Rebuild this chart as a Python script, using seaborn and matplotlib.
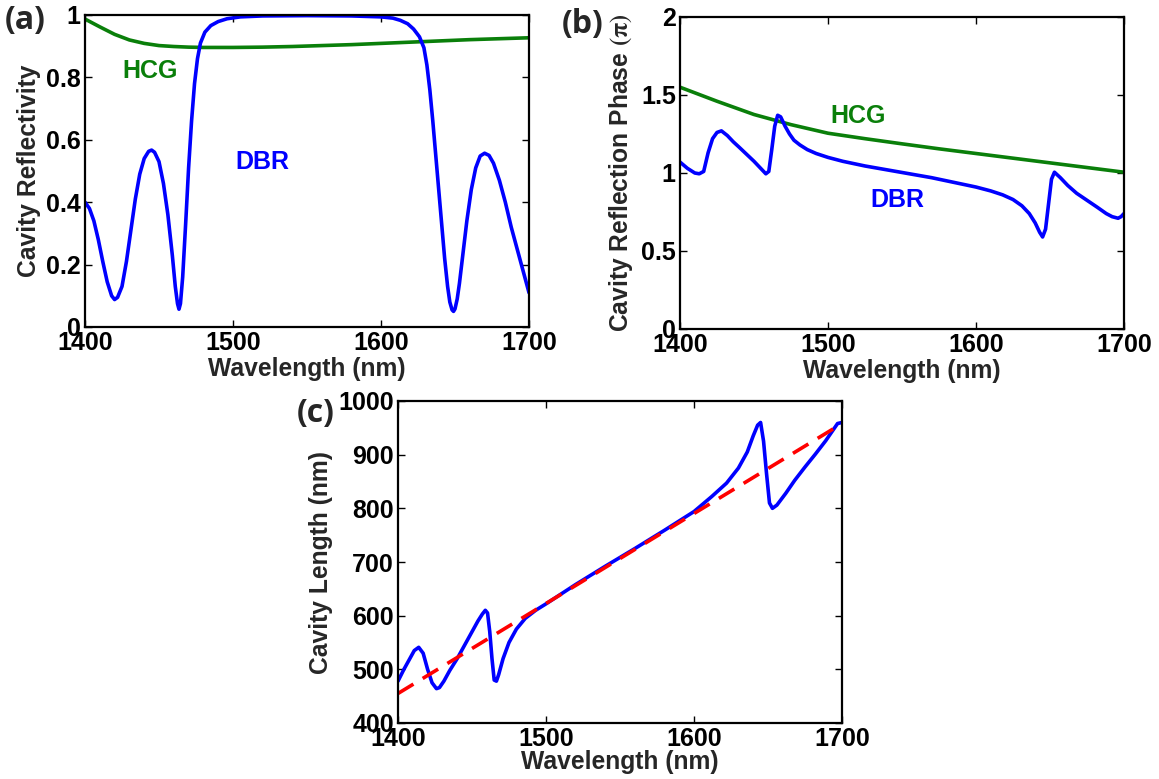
import matplotlib
matplotlib.use('Agg')
import seaborn as sns
import matplotlib.pyplot as plt

# (a) cavity reflectivity
a_wl = [1400, 1403, 1406, 1409, 1412, 1415, 1418, 1420, 1422, 1425,
        1428, 1431, 1434, 1437, 1440, 1443, 1445, 1447, 1450, 1453,
        1456, 1459, 1461, 1462.5, 1463.5, 1464.5, 1466, 1468, 1470, 1472,
        1474, 1476, 1478, 1481, 1485, 1490, 1496, 1505, 1520, 1550,
        1580, 1600, 1608, 1613, 1618, 1622, 1626, 1629, 1631, 1633,
        1635, 1637, 1639, 1641, 1643, 1645, 1646.5, 1648, 1649, 1650,
        1651.5, 1653, 1655, 1658, 1661, 1664, 1667, 1670, 1673, 1676,
        1680, 1684, 1688, 1692, 1696, 1700]
a_dbr = [0.40, 0.38, 0.34, 0.28, 0.21, 0.145, 0.10, 0.088, 0.095, 0.13,
         0.21, 0.31, 0.41, 0.49, 0.54, 0.563, 0.567, 0.56, 0.53, 0.46,
         0.36, 0.23, 0.13, 0.075, 0.057, 0.075, 0.16, 0.33, 0.51, 0.66,
         0.78, 0.86, 0.91, 0.945, 0.966, 0.979, 0.988, 0.994, 0.997, 0.998,
         0.997, 0.994, 0.99, 0.983, 0.972, 0.955, 0.93, 0.895, 0.84, 0.76,
         0.66, 0.55, 0.44, 0.33, 0.22, 0.13, 0.08, 0.055, 0.05, 0.058,
         0.09, 0.14, 0.22, 0.34, 0.44, 0.51, 0.548, 0.557, 0.55, 0.525,
         0.47, 0.40, 0.32, 0.25, 0.18, 0.11]
a_hcg_wl = [1400, 1410, 1420, 1430, 1440, 1450, 1460, 1470, 1480, 1500,
            1520, 1540, 1560, 1580, 1600, 1620, 1640, 1660, 1680, 1700]
a_hcg = [0.987, 0.962, 0.938, 0.92, 0.909, 0.902, 0.899, 0.897, 0.896, 0.896,
         0.897, 0.899, 0.902, 0.905, 0.909, 0.913, 0.917, 0.921, 0.924, 0.927]

# (b) reflection phase (in units of pi)
b_wl = [1400, 1405, 1410, 1413, 1416, 1419, 1422, 1425, 1428, 1432,
        1436, 1440, 1445, 1450, 1455, 1458, 1460, 1462, 1464, 1466,
        1468, 1471, 1474, 1477, 1481, 1486, 1492, 1500, 1510, 1525,
        1540, 1555, 1570, 1585, 1600, 1610, 1618, 1625, 1631, 1636,
        1640, 1643, 1645, 1647, 1649, 1651, 1653, 1657, 1662, 1668,
        1675, 1682, 1688, 1692, 1696, 1698, 1700]
b_dbr = [1.07, 1.03, 1.0, 0.995, 1.01, 1.13, 1.22, 1.26, 1.27, 1.24,
         1.2, 1.165, 1.12, 1.075, 1.025, 0.995, 1.01, 1.15, 1.30, 1.37,
         1.36, 1.30, 1.25, 1.21, 1.18, 1.15, 1.125, 1.10, 1.075, 1.045,
         1.02, 0.995, 0.97, 0.94, 0.91, 0.885, 0.86, 0.83, 0.79, 0.74,
         0.68, 0.62, 0.59, 0.64, 0.80, 0.96, 1.005, 0.97, 0.92, 0.87,
         0.825, 0.78, 0.74, 0.72, 0.71, 0.72, 0.74]
b_hcg_wl = [1400, 1425, 1450, 1475, 1500, 1525, 1550, 1575, 1600, 1625,
            1650, 1675, 1700]
b_hcg = [1.55, 1.46, 1.375, 1.31, 1.255, 1.22, 1.187, 1.155, 1.125, 1.095,
         1.065, 1.035, 1.005]

# (c) cavity length
c_wl = [1400, 1404, 1408, 1411, 1414, 1417, 1420, 1423, 1426, 1428,
        1431, 1435, 1440, 1445, 1450, 1454, 1457, 1459, 1460.5, 1462,
        1463.5, 1465, 1466.5, 1468, 1471, 1475, 1480, 1486, 1493, 1500,
        1520, 1540, 1560, 1580, 1600, 1612, 1622, 1630, 1636, 1640,
        1643, 1645, 1647, 1649, 1651, 1653, 1656, 1662, 1668, 1675,
        1682, 1689, 1694, 1697, 1700]
c_len = [478, 500, 520, 535, 541, 530, 500, 475, 464, 466,
         478, 498, 520, 545, 570, 590, 603, 610, 605, 570,
         520, 480, 478, 490, 520, 550, 575, 595, 610, 622,
         658, 692, 725, 759, 794, 822, 847, 875, 905, 935,
         955, 960, 925, 865, 810, 800, 806, 828, 852, 877,
         901, 926, 946, 958, 960]
c_fit_wl = [1400, 1700]
c_fit = [455, 958]

x_ticks = [1400, 1500, 1600, 1700]

sns.set_style('ticks')
plt.rcParams['font.family'] = ['Liberation Sans', 'DejaVu Sans']
plt.rcParams['font.weight'] = 'bold'
plt.rcParams['axes.labelweight'] = 'bold'
plt.rcParams['mathtext.fontset'] = 'stix'

BLUE = '#0000ff'
GREEN = '#0a7f0a'
RED = '#ff0000'
LW = 2.6
FS_TICK = 18
FS_LABEL = 17.7

W, H = 1159, 779
fig = plt.figure(figsize=(W / 100, H / 100), dpi=100)


def box(left, top, right, bottom):
    return [left / W, 1 - bottom / H, (right - left) / W, (bottom - top) / H]


def style(ax, yticks, ylabels, ylim, ylabel, xpad=1):
    ax.set_xlim(1400, 1700)
    ax.set_ylim(*ylim)
    ax.set_xticks(x_ticks)
    ax.set_xticklabels([str(t) for t in x_ticks])
    ax.set_yticks(yticks)
    ax.set_yticklabels(ylabels)
    ax.tick_params(direction='in', length=5, width=1, top=True, right=True,
                   labelsize=FS_TICK, pad=3, colors='black')
    for s in ax.spines.values():
        s.set_linewidth(1.6)
        s.set_color('black')
    ax.set_xlabel('Wavelength (nm)', fontsize=FS_LABEL, labelpad=xpad)
    ax.set_ylabel(ylabel, fontsize=FS_LABEL, labelpad=4)


# Panel (a)
ax_a = fig.add_axes(box(85, 15, 529, 327))
sns.lineplot(x=a_hcg_wl, y=a_hcg, color=GREEN, lw=LW, ax=ax_a)
sns.lineplot(x=a_wl, y=a_dbr, color=BLUE, lw=LW, ax=ax_a)
style(ax_a, [0, 0.2, 0.4, 0.6, 0.8, 1],
      ['0', '0.2', '0.4', '0.6', '0.8', '1'], (0, 1), 'Cavity Reflectivity')
ax_a.text(1444, 0.82, 'HCG', color=GREEN, fontsize=18, ha='center', va='center')
ax_a.text(1520, 0.53, 'DBR', color=BLUE, fontsize=18, ha='center', va='center')

# Panel (b)
ax_b = fig.add_axes(box(680, 17, 1124, 329))
sns.lineplot(x=b_hcg_wl, y=b_hcg, color=GREEN, lw=LW, ax=ax_b)
sns.lineplot(x=b_wl, y=b_dbr, color=BLUE, lw=LW, ax=ax_b)
style(ax_b, [0, 0.5, 1, 1.5, 2], ['0', '0.5', '1', '1.5', '2'], (0, 2),
      r'Cavity Reflection Phase $(\mathrm{\pi})$')
ax_b.text(1520, 1.365, 'HCG', color=GREEN, fontsize=18, ha='center', va='center')
ax_b.text(1547, 0.83, 'DBR', color=BLUE, fontsize=18, ha='center', va='center')

# Panel (c)
ax_c = fig.add_axes(box(398, 401, 842, 723))
sns.lineplot(x=c_wl, y=c_len, color=BLUE, lw=LW, ax=ax_c)
sns.lineplot(x=c_fit_wl, y=c_fit, color=RED, lw=LW, ax=ax_c)
ax_c.lines[-1].set_dashes([5, 3])
style(ax_c, list(range(400, 1001, 100)),
      [str(v) for v in range(400, 1001, 100)], (400, 1000),
      'Cavity Length (nm)', xpad=-1)

# panel letters
for lbl, px, py in [('(a)', 25, 20), ('(b)', 583, 25), ('(c)', 316, 414)]:
    fig.text(px / W, 1 - py / H, lbl, fontsize=23, ha='center', va='center',
             family=['Open Sans', 'DejaVu Sans'], weight='bold')

plt.savefig('out.png', dpi=100)
